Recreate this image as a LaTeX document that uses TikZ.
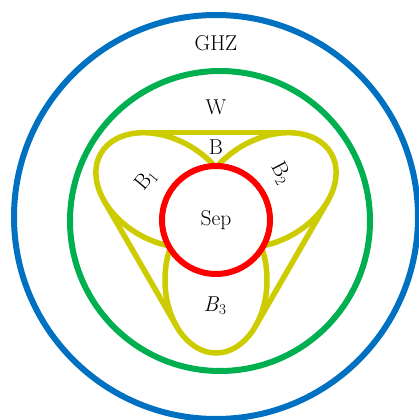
\documentclass[tikz,border=0pt]{standalone}
\usepackage{fontspec}
\usepackage{xcolor}
\usepackage{tikz}

\definecolor{ghzblue}{HTML}{0070C0}
\definecolor{wgreen}{HTML}{00B050}
\definecolor{sepred}{HTML}{FF0000}
\definecolor{byellow}{HTML}{CCCC00}

\begin{document}
\begin{tikzpicture}[
  x=1pt, y=1pt,
  font=\fontsize{21.5}{25}\selectfont,
  % Nested class boundaries
  ring/.style={line width=6pt},
  % Biseparable lobes and their hull
  lobe/.style={draw=byellow, line width=5.5pt},
  lbl/.style={inner sep=0pt}
]
\useasboundingbox (-216,-200) rectangle (203,220);

% ── Outer classes ──────────────────────────────────────────────────────────
\coordinate (sep) at (0,0);
\draw[ring, ghzblue] (0,3)  circle (202);
\draw[ring, wgreen]  (4,-1) circle (150);

% ── Biseparable lobes B1, B2, B3 ──────────────────────────────────────────
\foreach \ang in {150,30,270}
  \draw[lobe, rotate=\ang] (60,0) ellipse (73 and 51);
% tangent lines of the hull B
\foreach \ang in {0,120,240}
  \draw[lobe, rotate=\ang] (-72.6,87.3) -- (72.6,87.3);

% ── Separable core ────────────────────────────────────────────────────────
\draw[ring, sepred, fill=white] (sep) circle (54);

% ── Labels ────────────────────────────────────────────────────────────────
\node[lbl] (ghz)  at (0,177)  {GHZ};
\node[lbl] (w)    at (0,113)  {W};
\node[lbl] (b)    at (0,73)   {B};
\node[lbl] (sepl) at (sep)    {Sep};
\node[lbl, rotate=50]  (b1) at (-70,40) {B\textsubscript{1}};
\node[lbl, rotate=-62] (b2) at (65,47)  {B\textsubscript{2}};
\node[lbl] (b3)   at (-1,-86) {\textit{B}\textsubscript{3}};

\end{tikzpicture}
\end{document}
